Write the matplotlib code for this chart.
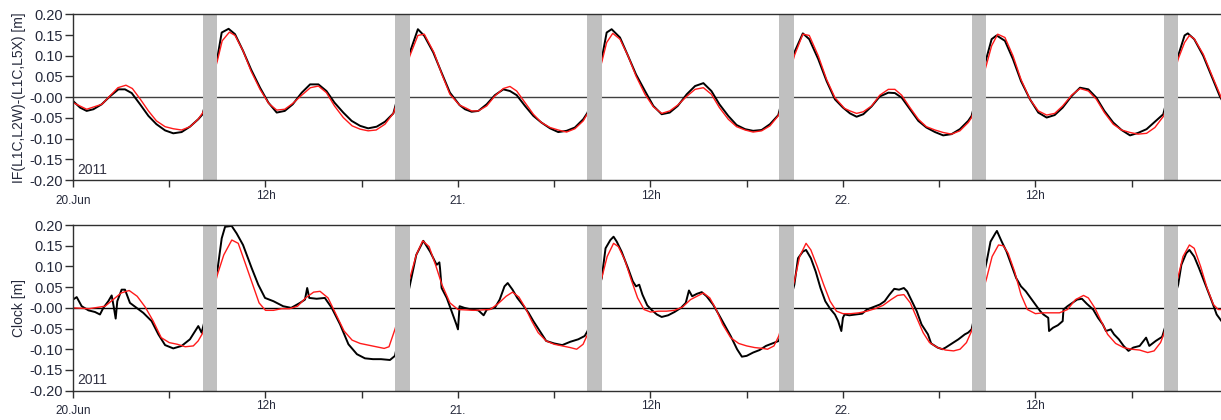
import matplotlib.pyplot as plt
import numpy as np
from matplotlib.ticker import FixedLocator, FixedFormatter

plt.rcParams['font.family'] = ['Liberation Sans', 'DejaVu Sans']

# Time axis in hours since 20 Jun 2011 00:00
t_end = 71.57

# Eclipse / data gap windows [h]
gap_start = [8.08, 20.07, 32.05, 44.03, 56.02, 68.0]
gap_end = [9.0, 21.0, 32.97, 44.96, 56.95, 68.92]

# IF code difference, observed
t_if_obs = [0.0, 0.44, 0.85, 1.27, 1.79, 2.3, 2.83, 3.24, 3.66, 4.18, 4.7, 5.2, 5.74, 6.25,
            6.77, 7.29, 7.81, 8.08, 9.02, 9.27, 9.7, 10.1, 10.6, 11.1, 11.66, 12.18, 12.7,
            13.2, 13.7, 14.26, 14.78, 15.3, 15.8, 16.3, 16.85, 17.37, 17.9, 18.4, 18.93,
            19.45, 19.97, 21.0, 21.5, 21.9, 22.46, 22.98, 23.5, 24.1, 24.44, 24.85, 25.27,
            25.79, 26.3, 26.83, 27.24, 27.66, 28.18, 28.7, 29.2, 29.74, 30.25, 30.77, 31.29,
            31.81, 32.08, 32.96, 33.27, 33.58, 34.1, 34.6, 35.1, 35.66, 36.18, 36.7, 37.2,
            37.7, 38.26, 38.78, 39.3, 39.8, 40.3, 40.85, 41.37, 41.9, 42.4, 42.93, 43.45,
            43.97, 44.97, 45.5, 45.9, 46.46, 46.98, 47.5, 48.0, 48.44, 48.85, 49.27, 49.79,
            50.3, 50.83, 51.24, 51.66, 52.18, 52.7, 53.2, 53.74, 54.25, 54.77, 55.29, 55.81,
            56.02, 56.96, 57.27, 57.58, 58.1, 58.6, 59.1, 59.66, 60.18, 60.7, 61.2, 61.7,
            62.26, 62.78, 63.3, 63.8, 64.3, 64.85, 65.37, 65.9, 66.4, 66.93, 67.45, 67.97,
            68.9, 69.3, 69.5, 69.9, 70.46, 70.98, 71.5, 71.6]
if_obs = [-0.009, -0.025, -0.033, -0.029, -0.017, 0.002, 0.019, 0.019, 0.01, -0.017, -0.045,
          -0.065, -0.08, -0.087, -0.084, -0.071, -0.053, -0.041, 0.1, 0.156, 0.165, 0.152,
          0.112, 0.067, 0.023, -0.013, -0.037, -0.033, -0.017, 0.011, 0.031, 0.031, 0.015,
          -0.013, -0.037, -0.057, -0.069, -0.075, -0.071, -0.059, -0.039, 0.108, 0.164,
          0.148, 0.108, 0.059, 0.011, -0.019, -0.029, -0.035, -0.033, -0.017, 0.005, 0.019,
          0.015, 0.005, -0.021, -0.045, -0.061, -0.075, -0.084, -0.081, -0.073, -0.053,
          -0.037, 0.092, 0.156, 0.164, 0.144, 0.1, 0.055, 0.015, -0.021, -0.041, -0.037,
          -0.021, 0.007, 0.027, 0.034, 0.015, -0.017, -0.045, -0.067, -0.077, -0.081,
          -0.079, -0.065, -0.043, 0.108, 0.154, 0.14, 0.092, 0.039, -0.005, -0.025, -0.039,
          -0.047, -0.041, -0.022, 0.002, 0.011, 0.01, -0.001, -0.029, -0.057, -0.073,
          -0.084, -0.092, -0.089, -0.077, -0.057, -0.045, 0.096, 0.14, 0.149, 0.136, 0.092,
          0.039, -0.005, -0.037, -0.049, -0.043, -0.025, 0.003, 0.023, 0.019, -0.001,
          -0.033, -0.061, -0.079, -0.092, -0.086, -0.077, -0.059, -0.041, 0.1, 0.149,
          0.154, 0.14, 0.1, 0.051, 0.002, -0.005]

# IF code difference, model
t_if_mod = [0.0, 0.85, 1.8, 2.3, 2.8, 3.3, 3.7, 4.2, 4.7, 5.2, 5.74, 6.25, 6.77, 7.3, 7.8,
            8.1, 9.0, 9.3, 9.75, 10.1, 10.6, 11.1, 11.66, 12.2, 12.7, 13.2, 13.7, 14.26,
            14.8, 15.3, 15.8, 16.3, 16.85, 17.4, 17.9, 18.4, 18.9, 19.45, 20.0, 21.0, 21.5,
            21.9, 22.5, 23.0, 23.5, 24.1, 24.44, 24.85, 25.27, 25.79, 26.3, 26.83, 27.24,
            27.66, 28.18, 28.7, 29.2, 29.74, 30.25, 30.77, 31.29, 31.81, 32.08, 32.96, 33.27,
            33.65, 34.1, 34.6, 35.1, 35.66, 36.18, 36.7, 37.2, 37.7, 38.26, 38.78, 39.3,
            39.8, 40.3, 40.85, 41.37, 41.9, 42.4, 42.93, 43.45, 44.0, 44.97, 45.5, 45.9,
            46.46, 46.98, 47.5, 48.1, 48.44, 48.85, 49.27, 49.79, 50.3, 50.83, 51.24, 51.66,
            52.18, 52.7, 53.2, 53.74, 54.25, 54.77, 55.29, 55.81, 56.02, 56.96, 57.27, 57.65,
            58.1, 58.6, 59.1, 59.66, 60.18, 60.7, 61.2, 61.7, 62.26, 62.78, 63.3, 63.8,
            64.3, 64.85, 65.37, 65.9, 66.4, 66.93, 67.45, 68.0, 68.9, 69.3, 69.6, 69.9,
            70.46, 70.98, 71.5, 71.6]
if_mod = [-0.013, -0.029, -0.017, 0.003, 0.023, 0.029, 0.021, -0.005, -0.033, -0.057,
          -0.071, -0.076, -0.079, -0.071, -0.053, -0.037, 0.088, 0.136, 0.157, 0.149,
          0.112, 0.063, 0.019, -0.015, -0.031, -0.029, -0.015, 0.005, 0.023, 0.027, 0.011,
          -0.021, -0.049, -0.069, -0.077, -0.081, -0.079, -0.065, -0.037, 0.1, 0.149,
          0.152, 0.108, 0.055, 0.007, -0.019, -0.025, -0.033, -0.033, -0.021, 0.003, 0.021,
          0.026, 0.015, -0.013, -0.041, -0.061, -0.073, -0.079, -0.084, -0.076, -0.057,
          -0.039, 0.084, 0.132, 0.154, 0.14, 0.1, 0.051, 0.007, -0.023, -0.039, -0.033,
          -0.019, 0.002, 0.019, 0.023, 0.007, -0.025, -0.053, -0.071, -0.079, -0.084,
          -0.081, -0.069, -0.043, 0.1, 0.152, 0.149, 0.1, 0.043, -0.001, -0.027, -0.033,
          -0.039, -0.035, -0.021, 0.005, 0.019, 0.019, 0.005, -0.025, -0.053, -0.071,
          -0.079, -0.085, -0.089, -0.081, -0.061, -0.049, 0.08, 0.124, 0.152, 0.144, 0.1,
          0.043, -0.005, -0.033, -0.043, -0.039, -0.021, 0.005, 0.021, 0.015, -0.005,
          -0.037, -0.065, -0.079, -0.085, -0.089, -0.087, -0.073, -0.045, 0.092, 0.132,
          0.149, 0.141, 0.104, 0.055, 0.007, -0.003]

# Clock estimate, observed
t_clk_obs = [0.0, 0.23, 0.54, 0.96, 1.37, 1.68, 1.89, 2.2, 2.41, 2.55, 2.66, 2.76, 3.03,
             3.24, 3.55, 3.97, 4.38, 4.9, 5.32, 5.74, 6.25, 6.77, 7.29, 7.81, 8.02, 9.02,
             9.27, 9.48, 9.89, 10.2, 10.6, 11.14, 11.55, 11.97, 12.5, 13.1, 13.6, 14.15,
             14.46, 14.6, 14.73, 15.19, 15.7, 16.13, 16.65, 17.17, 17.7, 18.2, 18.7, 19.2,
             19.76, 20.07, 21.01, 21.4, 21.84, 22.26, 22.67, 22.84, 22.88, 22.98, 23.3, 23.6,
             23.9, 24.0, 24.1, 24.4, 24.85, 25.27, 25.6, 25.8, 26.3, 26.6, 26.9, 27.1, 27.4,
             27.7, 28.1, 28.4, 28.7, 29.1, 29.5, 30.0, 30.5, 31.0, 31.5, 31.9, 32.08, 32.96,
             33.2, 33.5, 33.7, 33.9, 34.2, 34.6, 34.9, 35.1, 35.3, 35.5, 35.8, 36.1, 36.4,
             36.7, 37.1, 37.5, 37.9, 38.2, 38.4, 38.6, 38.9, 39.2, 39.5, 39.9, 40.2, 40.6,
             41.0, 41.4, 41.7, 42.0, 42.4, 42.8, 43.2, 43.6, 44.0, 44.97, 45.2, 45.5, 45.7,
             46.0, 46.3, 46.6, 46.9, 47.2, 47.5, 47.7, 47.9, 48.0, 48.1, 48.4, 48.8, 49.2,
             49.5, 49.9, 50.3, 50.6, 50.9, 51.2, 51.5, 51.8, 52.0, 52.3, 52.6, 52.9, 53.3,
             53.5, 53.9, 54.2, 54.4, 54.8, 55.2, 55.6, 55.8, 56.02, 56.96, 57.2, 57.5, 57.6,
             57.9, 58.2, 58.5, 58.8, 59.1, 59.4, 59.7, 60.0, 60.3, 60.5, 60.8, 60.85, 61.1,
             61.4, 61.7, 61.75, 62.0, 62.3, 62.6, 62.9, 63.2, 63.6, 63.9, 64.2, 64.4, 64.7,
             64.9, 65.2, 65.5, 65.8, 66.1, 66.5, 66.9, 67.1, 67.5, 67.9, 68.9, 69.1, 69.4,
             69.6, 69.9, 70.2, 70.6, 71.0, 71.3, 71.6]
clk_obs = [0.02, 0.026, 0.004, -0.006, -0.01, -0.016, 0.0, 0.016, 0.03, 0.0, -0.026, 0.016,
           0.044, 0.044, 0.012, 0.0, -0.012, -0.032, -0.064, -0.09, -0.098, -0.092, -0.076,
           -0.044, -0.06, 0.096, 0.168, 0.196, 0.198, 0.18, 0.152, 0.096, 0.056, 0.024,
           0.016, 0.004, 0.0, 0.012, 0.02, 0.048, 0.024, 0.022, 0.024, 0.0, -0.04, -0.088,
           -0.112, -0.122, -0.124, -0.124, -0.126, -0.116, 0.056, 0.128, 0.162, 0.136,
           0.104, 0.11, 0.096, 0.048, 0.024, -0.008, -0.04, -0.052, 0.004, 0.0, -0.004,
           -0.006, -0.018, -0.004, 0.0, 0.02, 0.052, 0.06, 0.044, 0.024, 0.004, -0.012,
           -0.032, -0.056, -0.08, -0.086, -0.09, -0.082, -0.076, -0.068, -0.056, 0.072,
           0.144, 0.164, 0.172, 0.16, 0.136, 0.096, 0.064, 0.052, 0.056, 0.032, 0.006,
           -0.006, -0.016, -0.022, -0.018, -0.01, 0.0, 0.012, 0.042, 0.028, 0.034, 0.038,
           0.028, 0.008, -0.012, -0.04, -0.068, -0.1, -0.118, -0.116, -0.108, -0.102,
           -0.092, -0.086, -0.08, 0.056, 0.12, 0.136, 0.14, 0.12, 0.088, 0.048, 0.016,
           -0.002, -0.016, -0.032, -0.056, -0.024, -0.016, -0.018, -0.016, -0.014, -0.004,
           0.002, 0.008, 0.016, 0.032, 0.046, 0.044, 0.048, 0.04, 0.016, -0.008, -0.04,
           -0.064, -0.086, -0.096, -0.1, -0.096, -0.086, -0.076, -0.064, -0.06, -0.052,
           0.112, 0.16, 0.18, 0.186, 0.16, 0.136, 0.104, 0.072, 0.052, 0.04, 0.024, 0.008,
           -0.008, -0.016, -0.024, -0.056, -0.048, -0.042, -0.032, -0.004, 0.004, 0.012,
           0.02, 0.022, 0.01, -0.004, -0.024, -0.04, -0.056, -0.052, -0.064, -0.076,
           -0.092, -0.104, -0.096, -0.092, -0.072, -0.092, -0.08, -0.07, 0.056, 0.104,
           0.132, 0.14, 0.124, 0.096, 0.056, 0.016, -0.016, -0.032]

# Clock estimate, model
t_clk_mod = [0.0, 1.0, 2.0, 2.5, 3.0, 3.5, 4.0, 4.5, 5.0, 5.5, 6.0, 6.5, 7.0, 7.5, 7.8, 8.1,
             9.0, 9.4, 9.9, 10.3, 10.7, 11.2, 11.6, 12.0, 12.5, 13.0, 13.5, 14.0, 14.5, 15.0,
             15.4, 15.9, 16.4, 16.9, 17.4, 17.9, 18.4, 18.9, 19.4, 19.7, 20.07, 21.0, 21.4,
             21.8, 22.2, 22.6, 23.0, 23.5, 24.0, 25.0, 26.0, 26.5, 27.0, 27.4, 27.8, 28.2,
             28.6, 29.0, 29.5, 30.0, 30.5, 31.0, 31.4, 31.8, 32.08, 32.96, 33.3, 33.7, 34.0,
             34.4, 34.8, 35.2, 35.6, 36.0, 36.5, 37.0, 37.5, 38.0, 38.5, 39.0, 39.3, 39.7,
             40.1, 40.5, 41.0, 41.5, 42.0, 42.5, 43.0, 43.3, 43.7, 44.0, 44.97, 45.3, 45.7,
             46.0, 46.4, 46.8, 47.2, 47.6, 48.0, 48.5, 49.0, 49.5, 50.0, 50.5, 51.0, 51.4,
             51.8, 52.2, 52.6, 53.0, 53.4, 53.9, 54.4, 54.9, 55.3, 55.7, 56.02, 56.96, 57.3,
             57.7, 58.0, 58.3, 58.7, 59.1, 59.5, 60.0, 60.5, 61.0, 61.5, 62.0, 62.5, 63.0,
             63.3, 63.7, 64.1, 64.5, 65.0, 65.5, 66.0, 66.5, 67.0, 67.4, 67.8, 68.0, 68.9,
             69.2, 69.6, 69.9, 70.3, 70.7, 71.1, 71.4, 71.6]
clk_mod = [0.0, -0.002, 0.004, 0.02, 0.036, 0.042, 0.028, 0.002, -0.032, -0.072, -0.084,
           -0.088, -0.094, -0.092, -0.08, -0.06, 0.08, 0.128, 0.164, 0.156, 0.112, 0.056,
           0.012, -0.006, -0.006, -0.002, -0.002, 0.004, 0.024, 0.038, 0.04, 0.024, -0.016,
           -0.056, -0.078, -0.086, -0.09, -0.094, -0.098, -0.094, -0.052, 0.072, 0.128,
           0.162, 0.148, 0.104, 0.056, 0.012, -0.004, -0.006, -0.004, 0.01, 0.028, 0.038,
           0.026, 0.0, -0.032, -0.06, -0.08, -0.088, -0.092, -0.096, -0.1, -0.088, -0.064,
           0.072, 0.124, 0.156, 0.148, 0.116, 0.068, 0.024, -0.004, -0.01, -0.008, -0.008,
           -0.006, 0.002, 0.02, 0.03, 0.036, 0.024, -0.004, -0.04, -0.072, -0.086, -0.092,
           -0.096, -0.098, -0.1, -0.092, -0.068, 0.064, 0.124, 0.156, 0.14, 0.1, 0.056,
           0.016, -0.008, -0.014, -0.014, -0.012, -0.008, -0.002, 0.006, 0.02, 0.03, 0.032,
           0.012, -0.024, -0.06, -0.084, -0.096, -0.102, -0.104, -0.1, -0.084, -0.056,
           0.072, 0.124, 0.152, 0.15, 0.132, 0.088, 0.032, -0.004, -0.014, -0.012, -0.012,
           -0.012, -0.004, 0.02, 0.03, 0.024, 0.0, -0.032, -0.064, -0.086, -0.096, -0.1,
           -0.102, -0.108, -0.104, -0.084, -0.064, 0.076, 0.124, 0.152, 0.144, 0.1, 0.048,
           0.008, -0.004, -0.004]

# Axis decorations
y_ticks = [-0.20, -0.15, -0.10, -0.05, 0.0, 0.05, 0.10, 0.15, 0.20]
y_ticklabels = ['-0.20', '-0.15', '-0.10', '-0.05', '-0.00', '0.05', '0.10', '0.15', '0.20']
day_ticks = [0, 24, 48]
day_labels = ['20.Jun', '21.', '22.']
hour_ticks = [6, 12, 18, 30, 36, 42, 54, 60, 66]
hour_labels = ['', '12h', '', '', '12h', '', '', '12h', '']

text_col = '#24283a'
fig = plt.figure(figsize=(12.21, 4.2), dpi=100)
ax_top = fig.add_axes([0.0598, 0.571, 0.9402, 0.395])
ax_bot = fig.add_axes([0.0598, 0.0700, 0.9402, 0.3940])

panels = [(ax_top, t_if_obs, if_obs, t_if_mod, if_mod, 'IF(L1C,L2W)-(L1C,L5X) [m]', '#404040'),
          (ax_bot, t_clk_obs, clk_obs, t_clk_mod, clk_mod, 'Clock [m]', '#000000')]

for ax, t_o, v_o, t_m, v_m, ylab, zcol in panels:
    # Data
    ax.plot(t_o, v_o, color='black', lw=1.4, zorder=3)
    ax.plot(t_m, v_m, color='#ff1a1a', lw=1.0, zorder=4)
    ax.axhline(0.0, color=zcol, lw=1.0, zorder=2)

    # Gaps drawn over the curves
    for g0, g1 in zip(gap_start, gap_end):
        ax.axvspan(g0, g1, color='#c0c0c0', lw=0, zorder=5)

    ax.set_xlim(0, t_end)
    ax.set_ylim(-0.2, 0.2)

    # Spines
    ax.spines['right'].set_visible(False)
    for s in ['left', 'top', 'bottom']:
        ax.spines[s].set_color('#303030')
        ax.spines[s].set_linewidth(1.0)
        ax.spines[s].set_zorder(6)

    # Ticks
    ax.set_yticks(y_ticks)
    ax.set_yticklabels(y_ticklabels)
    ax.tick_params(axis='y', direction='out', length=6, width=1.0, pad=1.5,
                   labelsize=10.5, labelcolor=text_col, color='#303030')
    ax.xaxis.set_major_locator(FixedLocator(day_ticks))
    ax.xaxis.set_major_formatter(FixedFormatter(day_labels))
    ax.xaxis.set_minor_locator(FixedLocator(hour_ticks))
    ax.xaxis.set_minor_formatter(FixedFormatter(hour_labels))
    ax.tick_params(axis='x', which='major', direction='out', length=5, width=1.0, pad=5.5,
                   labelsize=8.5, labelcolor=text_col, color='#303030')
    ax.tick_params(axis='x', which='minor', direction='out', length=5, width=1.0, pad=2,
                   labelsize=8.5, labelcolor=text_col, color='#303030')

    ax.set_ylabel(ylab, fontsize=10, color=text_col, labelpad=2)
    ax.text(0.004, 0.02, '2011', transform=ax.transAxes, fontsize=10,
            color='#333344', ha='left', va='bottom', zorder=7)

fig.savefig('out.png', dpi=100)
